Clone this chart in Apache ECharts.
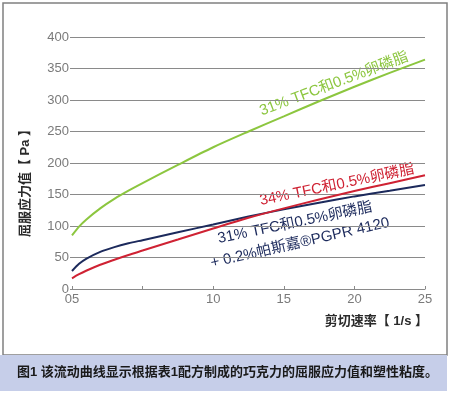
<!DOCTYPE html>
<html>
<head>
<meta charset="utf-8">
<script src="https://cdn.jsdelivr.net/npm/echarts@6/dist/echarts.min.js"></script>
<style>
html,body{margin:0;padding:0;background:#fff;}
#c{width:450px;height:393px;}
</style>
</head>
<body>
<div id="c"></div>
<script>
// Shear rate (1/s)
const shearRates = [0, 0.5, 1, 2, 3, 4, 5, 7.5, 10, 12.5, 15, 17.5, 20, 22.5, 25];
// Yield stress (Pa)
const green31 = [85, 99, 110, 128, 143, 156, 168, 197, 225, 250, 274, 298, 321, 343, 364];
const red34   = [17, 23.5, 29, 38.5, 46.5, 54, 61, 78.5, 96, 113, 128, 142, 155.5, 168, 180.5];
const navy31  = [28.5, 40, 48, 59, 66.5, 72.5, 77.5, 90, 102.5, 115, 126.5, 137, 147, 156, 165];
const xTicks = {0: '05', 5: '', 10: '10', 15: '15', 20: '20', 25: '25'};
const yTicks = [0, 50, 100, 150, 200, 250, 300, 350, 400];

const labelGreen = '31% TFC和0.5%卵磷脂';
const labelRed = '34% TFC和0.5%卵磷脂';
const labelNavy1 = '31% TFC和0.5%卵磷脂';
const labelNavy2 = '+ 0.2%帕斯嘉®PGPR 4120';
const yName = '屈服应力值【 Pa 】';
const xName = '剪切速率【 1/s 】';
const caption = '图1 该流动曲线显示根据表1配方制成的巧克力的屈服应力值和塑性粘度。';

const FF = '"Liberation Sans", Arial, "Noto Sans CJK SC", sans-serif';
const pair = arr => shearRates.map((x, i) => [x, arr[i]]);

const chart = echarts.init(document.getElementById('c'), null, {renderer: 'canvas'});
const lineBase = {type: 'line', smooth: 0.3, showSymbol: false};
chart.setOption({
  animation: false,
  backgroundColor: '#ffffff',
  grid: {left: 72, right: 25, top: 37, bottom: 104},
  xAxis: {
    type: 'value', min: 0, max: 25, interval: 5,
    axisLine: {show: true, lineStyle: {color: '#8a8a8a', width: 1}},
    axisTick: {show: true, inside: true, length: 3, lineStyle: {color: '#8a8a8a'}},
    splitLine: {show: false},
    axisLabel: {color: '#7a7a7a', fontSize: 13, fontFamily: FF, margin: 4,
      formatter: v => (xTicks[v] !== undefined ? xTicks[v] : '')}
  },
  yAxis: {
    type: 'value', min: yTicks[0], max: yTicks[yTicks.length - 1], interval: 50,
    axisLine: {show: false},
    axisTick: {show: true, length: 2, lineStyle: {color: '#8a8a8a'}},
    splitLine: {show: true, lineStyle: {color: '#8a8a8a', width: 1}},
    axisLabel: {color: '#7a7a7a', fontSize: 13, fontFamily: FF, margin: 3}
  },
  series: [
    Object.assign({}, lineBase, {data: pair(green31), lineStyle: {color: '#8cc63f', width: 2}}),
    Object.assign({}, lineBase, {data: pair(navy31), lineStyle: {color: '#1c2a5c', width: 2}}),
    Object.assign({}, lineBase, {data: pair(red34), lineStyle: {color: '#cf2233', width: 2}})
  ],
  graphic: [
    {type: 'rect', shape: {x: 3, y: 3, width: 444, height: 352},
     style: {fill: 'none', stroke: '#808080', lineWidth: 1.5}, silent: true},
    {type: 'rect', shape: {x: 0, y: 355, width: 447, height: 36},
     style: {fill: '#c6cee9'}, silent: true},
    {type: 'text', x: 17, y: 372,
     style: {text: caption, fill: '#1a1a1a', font: 'bold 13px ' + FF, align: 'left', verticalAlign: 'middle'}},
    {type: 'text', x: 25, y: 180, rotation: Math.PI / 2,
     style: {text: yName, fill: '#2a2a2a', font: 'bold 13px ' + FF, align: 'center', verticalAlign: 'middle'}},
    {type: 'text', x: 428, y: 321,
     style: {text: xName, fill: '#2a2a2a', font: 'bold 13px ' + FF, align: 'right', verticalAlign: 'middle'}},
    {type: 'text', x: 334, y: 84, rotation: 0.36,
     style: {text: labelGreen, fill: '#8cc63f', font: '15px ' + FF, align: 'center', verticalAlign: 'middle'}},
    {type: 'text', x: 337, y: 185, rotation: 0.205,
     style: {text: labelRed, fill: '#cf2233', font: '15px ' + FF, align: 'center', verticalAlign: 'middle'}},
    {type: 'text', x: 295, y: 223, rotation: 0.205,
     style: {text: labelNavy1, fill: '#1c2a5c', font: '15px ' + FF, align: 'center', verticalAlign: 'middle'}},
    {type: 'text', x: 300, y: 243, rotation: 0.225,
     style: {text: labelNavy2, fill: '#1c2a5c', font: '15px ' + FF, align: 'center', verticalAlign: 'middle'}}
  ]
});
</script>
</body>
</html>
